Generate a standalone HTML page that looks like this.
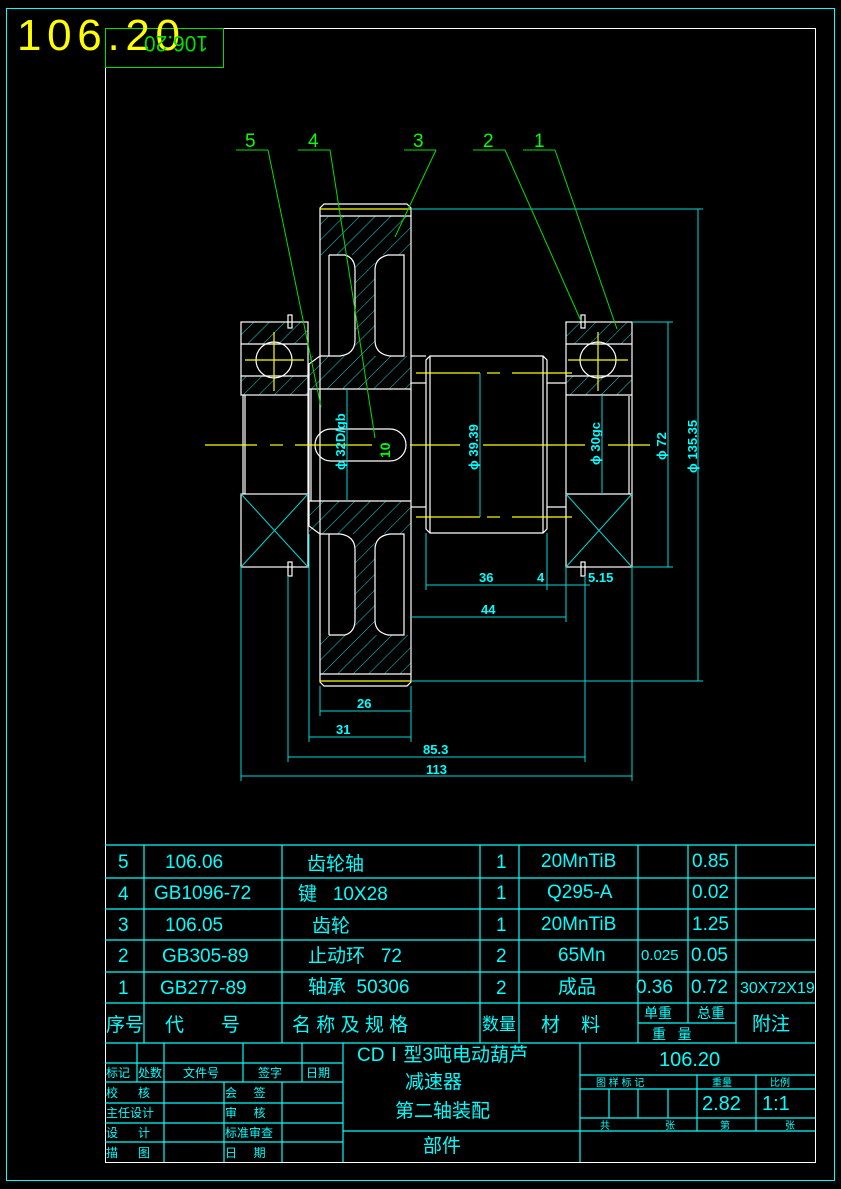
<!DOCTYPE html>
<html><head><meta charset="utf-8"><style>
html,body{margin:0;padding:0;background:#000;}
svg{display:block;}
text{font-family:"Liberation Sans","Noto Sans CJK SC",sans-serif;}
</style></head><body>
<svg width="841" height="1189" viewBox="0 0 841 1189" xmlns="http://www.w3.org/2000/svg">
<defs>
<pattern id="h" width="11" height="11" patternUnits="userSpaceOnUse" patternTransform="rotate(45)">
<line x1="0" y1="0" x2="0" y2="11" stroke="#00d8d8" stroke-width="1"/>
</pattern>
</defs>
<rect width="841" height="1189" fill="#000"/>
<rect x="6.5" y="8.5" width="828" height="1172" fill="none" stroke="#00ffff" stroke-width="1"/>
<rect x="105.5" y="28.5" width="710" height="1134" fill="none" stroke="#fff" stroke-width="1"/>
<rect x="105.5" y="28.5" width="118" height="39" fill="none" stroke="#00e000" stroke-width="1"/>
<text x="17" y="50" font-size="44" fill="#ffff00" textLength="163" lengthAdjust="spacing">106.20</text>
<text transform="translate(208,36) rotate(180)" x="0" y="0" font-size="22" fill="#00e000" textLength="64" lengthAdjust="spacingAndGlyphs">106.20</text>

<g fill="url(#h)">
<rect x="320" y="216" width="91" height="39"/><rect x="355" y="255" width="20" height="101"/><rect x="309" y="356" width="102" height="33"/>
<rect x="320" y="635" width="91" height="39"/><rect x="355" y="534" width="20" height="101"/><rect x="309" y="501" width="102" height="33"/>
<rect x="241" y="322" width="67" height="22"/><rect x="241" y="376" width="67" height="19"/>
<rect x="566" y="322" width="66" height="22"/><rect x="566" y="376" width="66" height="19"/>
</g>

<g fill="none" stroke="#fff" stroke-width="1.2">
<path d="M324,204 H407 L411,208 V682 L407,686 H324 L320,682 V208 Z"/>
<line x1="320" y1="216" x2="411" y2="216"/><line x1="320" y1="674" x2="411" y2="674"/>
<path d="M329,255 H345 Q355,258 355,270 V340 Q355,354 340,356 H320"/>
<path d="M404,255 H388 Q375,258 375,270 V340 Q375,354 390,356 H404 Z"/>
<line x1="329" y1="255" x2="329" y2="356"/>
<path d="M329,635 H345 Q355,632 355,620 V550 Q355,536 340,534 H320"/>
<path d="M404,635 H388 Q375,632 375,620 V550 Q375,536 390,534 H404 Z"/>
<line x1="329" y1="635" x2="329" y2="534"/>
<path d="M320,356 L309,364 V526 L320,534"/>
<line x1="309" y1="389" x2="411" y2="389"/><line x1="309" y1="501" x2="411" y2="501"/>
<line x1="311" y1="389" x2="311" y2="501"/>
<path d="M390,429 H331 A16,16 0 0 0 331,461 H390 A16,16 0 0 0 390,429 Z"/>
<rect x="241" y="322" width="67" height="73"/><line x1="241" y1="344" x2="308" y2="344"/><line x1="241" y1="376" x2="308" y2="376"/>
<circle cx="274" cy="360" r="18"/>
<rect x="241" y="494" width="67" height="73"/>
<line x1="243" y1="395" x2="243" y2="494"/><line x1="245" y1="395" x2="245" y2="494"/>
<line x1="308" y1="395" x2="308" y2="494"/>
<rect x="288" y="315" width="4" height="13"/><rect x="288" y="562" width="4" height="14"/>
<path d="M430,356 H543 L547,360 V529 L543,533 H430 L426,529 V360 Z"/>
<line x1="430" y1="356" x2="430" y2="533"/><line x1="543" y1="356" x2="543" y2="533"/>
<line x1="411" y1="383" x2="426" y2="383"/><line x1="411" y1="507" x2="426" y2="507"/>
<line x1="547" y1="383" x2="566" y2="383"/><line x1="547" y1="507" x2="566" y2="507"/>
<line x1="411" y1="356" x2="426" y2="356"/>
<rect x="566" y="322" width="66" height="245"/><line x1="566" y1="344" x2="632" y2="344"/><line x1="566" y1="376" x2="632" y2="376"/>
<line x1="566" y1="395" x2="632" y2="395"/><line x1="566" y1="494" x2="632" y2="494"/>
<line x1="629" y1="396" x2="629" y2="494"/>
<circle cx="598" cy="360" r="18"/>
<rect x="581" y="315" width="4" height="13"/><rect x="581" y="562" width="4" height="14"/>
</g>
<g stroke="#00d8d8" stroke-width="1">
<line x1="241" y1="494" x2="308" y2="567"/><line x1="308" y1="494" x2="241" y2="567"/>
<line x1="566" y1="494" x2="632" y2="567"/><line x1="632" y1="494" x2="566" y2="567"/>
</g>
<g stroke="#ffff00" stroke-width="1.2">
<line x1="205" y1="445" x2="257" y2="445"/><line x1="270" y1="445" x2="283" y2="445"/><line x1="295" y1="445" x2="372" y2="445"/>
<line x1="410" y1="445" x2="460" y2="445"/><line x1="483" y1="445" x2="585" y2="445"/><line x1="608" y1="445" x2="650" y2="445"/>
<line x1="320" y1="209" x2="411" y2="209"/><line x1="320" y1="681" x2="411" y2="681"/>
<line x1="416" y1="373" x2="480" y2="373"/><line x1="487" y1="373" x2="500" y2="373"/><line x1="512" y1="373" x2="572" y2="373"/>
<line x1="416" y1="517" x2="480" y2="517"/><line x1="487" y1="517" x2="500" y2="517"/><line x1="512" y1="517" x2="572" y2="517"/>
<line x1="245" y1="360" x2="304" y2="360"/><line x1="274" y1="332" x2="274" y2="391"/>
<line x1="568" y1="360" x2="628" y2="360"/><line x1="598" y1="332" x2="598" y2="391"/>
</g>
<g stroke="#00d8d8" stroke-width="1" fill="none">
<line x1="411" y1="209" x2="703" y2="209"/><line x1="411" y1="681" x2="703" y2="681"/><line x1="698" y1="209" x2="698" y2="681"/>
<line x1="632" y1="322" x2="673" y2="322"/><line x1="632" y1="567" x2="673" y2="567"/><line x1="668" y1="322" x2="668" y2="567"/>
<line x1="480" y1="373" x2="480" y2="517"/>
<line x1="602" y1="395" x2="602" y2="494"/>
<line x1="347" y1="389" x2="347" y2="501"/>
<line x1="426" y1="533" x2="426" y2="590"/><line x1="547" y1="533" x2="547" y2="590"/>
<line x1="426" y1="585" x2="590" y2="585"/>
<line x1="566" y1="567" x2="566" y2="622"/><line x1="411" y1="617" x2="566" y2="617"/>
<line x1="585" y1="576" x2="585" y2="762"/><line x1="632" y1="567" x2="632" y2="781"/>
<line x1="411" y1="686" x2="411" y2="742"/><line x1="320" y1="686" x2="320" y2="716"/>
<line x1="320" y1="711" x2="411" y2="711"/>
<line x1="309" y1="534" x2="309" y2="742"/><line x1="309" y1="737" x2="411" y2="737"/>
<line x1="288" y1="576" x2="288" y2="762"/><line x1="288" y1="757" x2="585" y2="757"/>
<line x1="241" y1="567" x2="241" y2="781"/><line x1="241" y1="776" x2="632" y2="776"/>
</g>
<g fill="#00ffff" font-size="13" font-weight="bold">
<text x="479" y="582">36</text><text x="537" y="582">4</text><text x="588" y="582">5.15</text>
<text x="481" y="614">44</text><text x="357" y="708">26</text><text x="336" y="734">31</text>
<text x="423" y="754">85.3</text><text x="426" y="774">113</text>
<text transform="translate(697,473) rotate(-90)">ϕ 135.35</text>
<text transform="translate(666,460) rotate(-90)">ϕ 72</text>
<text transform="translate(478,470) rotate(-90)">ϕ 39.39</text>
<text transform="translate(600,465) rotate(-90)">ϕ 30gc</text>
<text transform="translate(345,470) rotate(-90)">ϕ 32D/gb</text>
</g>
<text transform="translate(390,458) rotate(-90)" fill="#00ff00" font-size="14" font-weight="bold">10</text>
<g stroke="#00e000" stroke-width="1" fill="none">
<line x1="236" y1="150" x2="268" y2="150"/><line x1="268" y1="150" x2="321" y2="407"/>
<line x1="298" y1="150" x2="330" y2="150"/><line x1="330" y1="150" x2="375" y2="438"/>
<line x1="404" y1="150" x2="436" y2="150"/><line x1="436" y1="150" x2="395" y2="237"/>
<line x1="473" y1="150" x2="505" y2="150"/><line x1="505" y1="150" x2="581" y2="321"/>
<line x1="523" y1="150" x2="555" y2="150"/><line x1="555" y1="150" x2="617" y2="329"/>
</g>
<g fill="#00ff00" font-size="19">
<text x="245" y="147">5</text><text x="308" y="147">4</text><text x="413" y="147">3</text><text x="483" y="147">2</text><text x="534" y="147">1</text>
</g>

<g stroke="#00ffff" stroke-width="1.2" fill="none">
<line x1="105" y1="845" x2="815" y2="845"/><line x1="105" y1="878" x2="815" y2="878"/><line x1="105" y1="909" x2="815" y2="909"/>
<line x1="105" y1="940" x2="815" y2="940"/><line x1="105" y1="972" x2="815" y2="972"/><line x1="105" y1="1003" x2="815" y2="1003"/>
<line x1="105" y1="1043" x2="815" y2="1043"/><line x1="638" y1="1023" x2="736" y2="1023"/>
<line x1="144" y1="845" x2="144" y2="1043"/><line x1="282" y1="845" x2="282" y2="1043"/><line x1="480" y1="845" x2="480" y2="1043"/>
<line x1="519" y1="845" x2="519" y2="1043"/><line x1="638" y1="845" x2="638" y2="1043"/><line x1="688" y1="845" x2="688" y2="1023"/>
<line x1="736" y1="845" x2="736" y2="1043"/>
</g>
<g fill="#00ffff" font-size="19" font-family="Liberation Serif, Noto Sans CJK SC, serif">
<text x="118" y="868">5</text><text x="165" y="868">106.06</text><text x="307" y="870">齿轮轴</text><text x="496" y="868">1</text><text x="541" y="867">20MnTiB</text><text x="692" y="867">0.85</text>
<text x="118" y="900">4</text><text x="154" y="899">GB1096-72</text><text x="298" y="900">键&#160;&#160;&#160;10X28</text><text x="496" y="899">1</text><text x="547" y="898">Q295-A</text><text x="692" y="898">0.02</text>
<text x="118" y="931">3</text><text x="165" y="931">106.05</text><text x="312" y="932">齿轮</text><text x="496" y="931">1</text><text x="541" y="930">20MnTiB</text><text x="692" y="930">1.25</text>
<text x="118" y="962">2</text><text x="162" y="962">GB305-89</text><text x="308" y="962">止动环&#160;&#160;&#160;72</text><text x="496" y="962">2</text><text x="558" y="961">65Mn</text><text font-size="15" x="641" y="960">0.025</text><text x="691" y="961">0.05</text>
<text x="118" y="994">1</text><text x="160" y="994">GB277-89</text><text x="308" y="993">轴承&#160;&#160;50306</text><text x="496" y="994">2</text><text x="558" y="993">成品</text><text x="636" y="993">0.36</text><text x="691" y="993">0.72</text><text font-size="16" x="740" y="993">30X72X19</text>
<text x="106" y="1031">序号</text><text x="165" y="1031">代&#160;&#160;&#160;&#160;&#160;&#160;&#160;号</text><text x="292" y="1031">名 称 及 规 格</text><text font-size="17" x="482" y="1030">数量</text><text x="541" y="1031">材&#160;&#160;&#160;&#160;料</text>
<text font-size="14" x="644" y="1018">单重</text><text font-size="14" x="697" y="1018">总重</text><text font-size="14" x="652" y="1039">重&#160;&#160;&#160;量</text><text x="752" y="1030">附注</text>
</g>

<g stroke="#00ffff" stroke-width="1.2" fill="none">
<line x1="105" y1="1063" x2="343" y2="1063"/><line x1="105" y1="1082" x2="343" y2="1082"/><line x1="105" y1="1103" x2="343" y2="1103"/>
<line x1="105" y1="1123" x2="343" y2="1123"/><line x1="105" y1="1142" x2="343" y2="1142"/>
<line x1="137" y1="1043" x2="137" y2="1082"/><line x1="164" y1="1043" x2="164" y2="1162"/><line x1="243" y1="1043" x2="243" y2="1082"/>
<line x1="302" y1="1043" x2="302" y2="1082"/><line x1="224" y1="1082" x2="224" y2="1162"/><line x1="282" y1="1082" x2="282" y2="1162"/>
<line x1="343" y1="1043" x2="343" y2="1162"/><line x1="580" y1="1043" x2="580" y2="1162"/>
<line x1="343" y1="1131" x2="815" y2="1131"/>
<line x1="580" y1="1075" x2="815" y2="1075"/><line x1="580" y1="1089" x2="815" y2="1089"/><line x1="580" y1="1118" x2="815" y2="1118"/>
<line x1="609" y1="1089" x2="609" y2="1118"/><line x1="638" y1="1089" x2="638" y2="1118"/><line x1="668" y1="1089" x2="668" y2="1118"/>
<line x1="697" y1="1075" x2="697" y2="1131"/><line x1="756" y1="1075" x2="756" y2="1131"/>
</g>
<g fill="#00ffff" font-size="12" font-family="Liberation Serif, Noto Sans CJK SC, serif">
<text x="106" y="1077">标记</text><text x="138" y="1077">处数</text><text x="183" y="1077">文件号</text><text x="258" y="1077">签字</text><text x="306" y="1077">日期</text>
<text x="106" y="1097">校&#160;&#160;&#160;&#160;&#160;&#160;核</text><text x="225" y="1097">会&#160;&#160;&#160;&#160;&#160;签</text>
<text x="106" y="1117">主任设计</text><text x="225" y="1117">审&#160;&#160;&#160;&#160;&#160;核</text>
<text x="106" y="1137">设&#160;&#160;&#160;&#160;&#160;&#160;计</text><text x="225" y="1137">标准审查</text>
<text x="106" y="1157">描&#160;&#160;&#160;&#160;&#160;&#160;图</text><text x="225" y="1157">日&#160;&#160;&#160;&#160;&#160;期</text>
<text font-size="10" x="596" y="1086">图 样 标 记</text><text font-size="10" x="712" y="1086">重量</text><text font-size="10" x="770" y="1086">比例</text>
<text font-size="10" x="600" y="1129">共</text><text font-size="10" x="665" y="1129">张</text><text font-size="10" x="720" y="1129">第</text><text font-size="10" x="785" y="1129">张</text>
<text font-size="20" x="702" y="1110">2.82</text><text font-size="20" x="762" y="1110">1:1</text>
<text font-size="20" x="659" y="1066">106.20</text>
<text font-size="19" x="357" y="1061">CDⅠ型3吨电动葫芦</text>
<text font-size="19" x="405" y="1088">减速器</text>
<text font-size="19" x="395" y="1117">第二轴装配</text>
<text font-size="19" x="423" y="1152">部件</text>
</g>
</svg>
</body></html>
